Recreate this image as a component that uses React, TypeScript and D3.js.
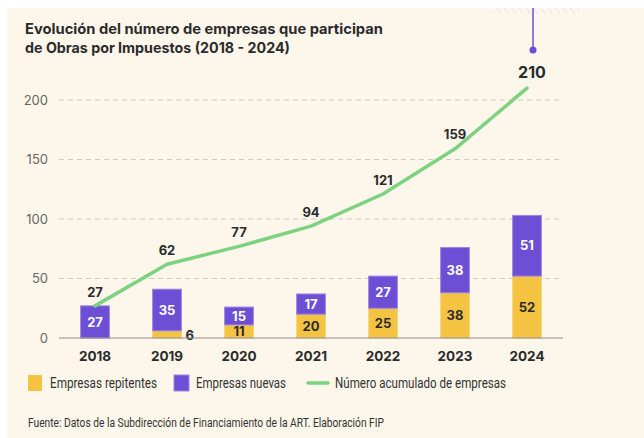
import React from "react";
import * as d3 from "d3";

const years = ["2018", "2019", "2020", "2021", "2022", "2023", "2024"];
const repitentes = [0, 6, 11, 20, 25, 38, 52];
const nuevas = [27, 35, 15, 17, 27, 38, 51];
const acumulado = [27, 62, 77, 94, 121, 159, 210];
const yTicks = [0, 50, 100, 150, 200];

const W = 644;
const H = 438;
const BG = "#FDF6EB";
const PURPLE = "#6C4FD4";
const YELLOW = "#F5C342";
const GREEN = "#7DD27F";
const DARK = "#2B2B2B";
const FONT = "Inter, 'Noto Sans', sans-serif";
const FONT2 = "Roboto, 'Noto Sans', sans-serif";

export default function App() {
  const x = d3.scaleBand<string>().domain(years).range([59, 563]).paddingInner(0.6).paddingOuter(0.3);
  const y = d3.scaleLinear().domain([0, 200]).range([338, 100]);
  const cx = (yr: string) => (x(yr) as number) + x.bandwidth() / 2;
  const line = d3
    .line<number>()
    .x((_, i) => cx(years[i]))
    .y((d) => y(d));

  return (
    <svg width={W} height={H} style={{ position: "absolute", left: 0, top: 0 }} fontFamily={FONT}>
      <defs>
        <pattern id="hatch" width="6" height="6" patternUnits="userSpaceOnUse" patternTransform="rotate(-35)">
          <line x1="0" y1="0" x2="0" y2="6" stroke="#D8D0F2" strokeWidth="2" />
        </pattern>
      </defs>
      <rect x={7} y={8} width={W - 7} height={H - 8} fill={BG} />
      <rect x={492} y={8} width={88} height={6} fill="url(#hatch)" opacity={0.5} />
      <line x1={533} x2={533} y1={8} y2={50} stroke={PURPLE} strokeWidth={1.5} />
      <circle cx={533} cy={50} r={3.5} fill={PURPLE} />

      <text x={25} y={34} fontSize={14.5} fontWeight={700} fill={DARK} textLength={358} lengthAdjust="spacingAndGlyphs">
        Evolución del número de empresas que participan
      </text>
      <text x={25} y={53} fontSize={14.5} fontWeight={700} fill={DARK} textLength={265} lengthAdjust="spacingAndGlyphs">
        de Obras por Impuestos (2018 - 2024)
      </text>

      {yTicks.map((t) => (
        <g key={t}>
          {t > 0 && (
            <line x1={59} x2={563} y1={y(t)} y2={y(t)} stroke="#CFCAC2" strokeWidth={1} strokeDasharray="5,4" />
          )}
          <text x={48} y={y(t)} dy="0.35em" textAnchor="end" fontSize={13} fill="#666">
            {t}
          </text>
        </g>
      ))}

      {years.map((yr, i) => {
        const bx = x(yr) as number;
        const bw = x.bandwidth();
        const r = repitentes[i];
        const n = nuevas[i];
        return (
          <g key={yr}>
            {r > 0 && (
              <rect x={bx} y={y(r)} width={bw} height={y(0) - y(r)} fill={YELLOW} stroke="#F8D57A" strokeWidth={1} />
            )}
            <rect x={bx} y={y(r + n)} width={bw} height={y(r) - y(r + n)} fill={PURPLE} stroke="#9C86E6" strokeWidth={1} />
            {r >= 10 && (
              <text x={cx(yr)} y={(y(0) + y(r)) / 2} dy="0.36em" textAnchor="middle" fontSize={13} fontWeight={700} fill={DARK}>
                {r}
              </text>
            )}
            {r > 0 && r < 10 && (
              <text x={bx + bw + 4} y={(y(0) + y(r)) / 2 + 1} dy="0.36em" textAnchor="start" fontSize={13} fontWeight={700} fill={DARK}>
                {r}
              </text>
            )}
            <text x={cx(yr)} y={(y(r) + y(r + n)) / 2} dy="0.36em" textAnchor="middle" fontSize={13} fontWeight={700} fill="#FFFFFF">
              {n}
            </text>
            <text x={cx(yr)} y={356} dy="0.36em" textAnchor="middle" fontSize={13.5} fontWeight={700} fill={DARK}>
              {yr}
            </text>
          </g>
        );
      })}

      <line x1={59} x2={563} y1={y(0)} y2={y(0)} stroke="#8E8A85" strokeWidth={1.2} />

      <path d={line(acumulado) as string} fill="none" stroke={GREEN} strokeWidth={3.5} strokeLinejoin="round" strokeLinecap="round" />
      {acumulado.map((v, i) => {
        const last = i === acumulado.length - 1;
        return (
          <text
            key={i}
            x={cx(years[i]) + (last ? 5 : 0)}
            y={y(v) - (last ? 16 : 14)}
            dy="0.36em"
            textAnchor="middle"
            fontSize={last ? 16 : 13}
            fontWeight={700}
            fill={DARK}
          >
            {v}
          </text>
        );
      })}

      <g fontFamily={FONT2}>
        <rect x={28} y={375} width={14} height={16} fill={YELLOW} />
        <text x={50} y={383} dy="0.35em" fontSize={14} fill="#333" textLength={107} lengthAdjust="spacingAndGlyphs">Empresas repitentes</text>
        <rect x={174} y={375} width={15} height={16} fill={PURPLE} stroke="#9C86E6" strokeWidth={1} />
        <text x={196} y={383} dy="0.35em" fontSize={14} fill="#333" textLength={90} lengthAdjust="spacingAndGlyphs">Empresas nuevas</text>
        <line x1={308} x2={328} y1={383} y2={383} stroke={GREEN} strokeWidth={3.5} strokeLinecap="round" />
        <text x={335} y={383} dy="0.35em" fontSize={14} fill="#333" textLength={171} lengthAdjust="spacingAndGlyphs">Número acumulado de empresas</text>

        <text x={28} y={423} dy="0.35em" fontSize={12} fill="#333" textLength={356} lengthAdjust="spacingAndGlyphs">
          Fuente: Datos de la Subdirección de Financiamiento de la ART. Elaboración FIP
        </text>
      </g>
    </svg>
  );
}
